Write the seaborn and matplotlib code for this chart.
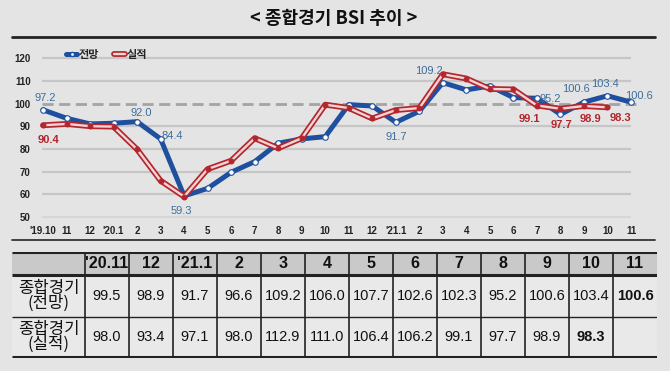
import numpy as np
import pandas as pd
import matplotlib
matplotlib.use('Agg')
import matplotlib.pyplot as plt
import seaborn as sns
from matplotlib.lines import Line2D
from matplotlib.patches import Rectangle

# chart data
months = ["'19.10", "11", "12", "'20.1", "2", "3", "4", "5", "6", "7", "8", "9", "10",
          "11", "12", "'21.1", "2", "3", "4", "5", "6", "7", "8", "9", "10", "11"]
outlook = [97.2, 93.5, 91.0, 91.3, 92.0, 84.4, 59.3, 62.6, 69.7, 74.4, 82.5, 84.4, 85.4,
           99.5, 98.9, 91.7, 96.6, 109.2, 106.0, 107.7, 102.6, 102.3, 95.2, 100.6, 103.4, 100.6]
actual = [90.4, 91.0, 90.0, 89.8, 79.8, 66.0, 59.0, 71.1, 74.8, 84.7, 80.3, 84.7, 99.5,
          98.0, 93.4, 97.1, 98.0, 112.9, 111.0, 106.4, 106.2, 99.1, 97.7, 98.9, 98.3]

# table data
table_cols = ["'20.11", "12", "'21.1", "2", "3", "4", "5", "6", "7", "8", "9", "10", "11"]
table_outlook = ["99.5", "98.9", "91.7", "96.6", "109.2", "106.0", "107.7", "102.6",
                 "102.3", "95.2", "100.6", "103.4", "100.6"]
table_actual = ["98.0", "93.4", "97.1", "98.0", "112.9", "111.0", "106.4", "106.2",
                "99.1", "97.7", "98.9", "98.3", ""]
row_labels = ["종합경기\n(전망)", "종합경기\n(실적)"]

# labelled points: (index, dx px, dy px)
blue_notes = [(0, 2, 12), (4, 4, 9), (5, 12, 3), (6, -3, -15), (15, 0, -15), (17, -14, 12),
              (22, -10, 15), (23, -8, 13), (24, -3, 12), (25, 8, 6)]
red_notes = [(0, 5, -15), (21, -8, -13), (22, 1, -16), (23, 6, -13), (24, 13, -11)]

BG = '#e4e4e4'
BLUE = '#1f4f9f'
BLUE_TXT = '#3f6d9c'
RED = '#b3262d'
RED_IN = '#f3d3d3'
KR = ['Noto Sans CJK KR', 'DejaVu Sans']
NUM = ['Liberation Sans Narrow', 'Liberation Sans', 'DejaVu Sans']

sns.set_theme(style='white')
plt.rcParams['font.family'] = KR

W, H = 670, 371
fig = plt.figure(figsize=(6.7, 3.71), dpi=100)
fig.patch.set_facecolor(BG)


def box(l, t, r, b):
    return [l / W, 1 - b / H, (r - l) / W, (b - t) / H]


fig.text(334 / W, 1 - 18 / H, '< 종합경기 BSI 추이 >', ha='center', va='center',
         fontsize=13, fontweight='bold', color='#111')
fig.add_artist(Line2D([12 / W, 655 / W], [1 - 37 / H] * 2, color='#222', lw=2))
fig.add_artist(Line2D([12 / W, 655 / W], [1 - 240 / H] * 2, color='#333', lw=1.3))

# ---- line chart ----
ax = fig.add_axes(box(35, 45, 640, 222))
ax.set_facecolor(BG)
step = 23.52
ax.set_xlim((35 - 43) / step, (640 - 43) / step)
ax.set_ylim(50 + (217 - 222) / 2.27, 50 + (217 - 45) / 2.27)

for v in [50, 60, 70, 80, 90, 110, 120]:
    ax.hlines(v, -0.05, 25.0, color='#c6c6c6' if v != 50 else '#d6d6d6', lw=1.6, zorder=0)
ax.hlines(100, -0.05, 25.2, color='#a4a4a4', lw=2, linestyles=(0, (4, 2)), zorder=0)

df_o = pd.DataFrame({'idx': range(len(outlook)), 'val': outlook})
df_a = pd.DataFrame({'idx': range(len(actual)), 'val': actual})

sns.lineplot(data=df_o, x='idx', y='val', ax=ax, color=BLUE, lw=3.6, marker='o',
             markersize=4, markerfacecolor='white', markeredgecolor=BLUE,
             markeredgewidth=0.8, zorder=3)
sns.lineplot(data=df_a, x='idx', y='val', ax=ax, color=RED, lw=4.2, zorder=4)
sns.lineplot(data=df_a, x='idx', y='val', ax=ax, color=RED_IN, lw=1.7, marker='o',
             markersize=3.5, markerfacecolor=RED, markeredgecolor=RED, zorder=5)

for i, dx, dy in blue_notes:
    ax.annotate(f'{outlook[i]:.1f}', (i, outlook[i]), xytext=(dx * 0.72, dy * 0.72),
                textcoords='offset points', ha='center', va='center', fontsize=8,
                color=BLUE_TXT, family=NUM, zorder=6)
for i, dx, dy in red_notes:
    ax.annotate(f'{actual[i]:.1f}', (i, actual[i]), xytext=(dx * 0.72, dy * 0.72),
                textcoords='offset points', ha='center', va='center', fontsize=8,
                color=RED, fontweight='bold', family=NUM, zorder=6)

ax.set_xticks(range(len(months)))
ax.set_xticklabels(months)
ax.set_yticks(range(50, 121, 10))
ax.tick_params(length=0, labelsize=7, pad=3, colors='#222')
for lab in ax.get_xticklabels() + ax.get_yticklabels():
    lab.set_fontweight('bold')
    lab.set_family(NUM)
ax.set_xlabel('')
ax.set_ylabel('')
for s in ax.spines.values():
    s.set_visible(False)

h_blue = Line2D([], [], color=BLUE, lw=3.6, marker='o', markersize=3,
                markerfacecolor='white', markeredgecolor=BLUE)
h_red = (Line2D([], [], color=RED, lw=4.2), Line2D([], [], color=RED_IN, lw=1.7))
ax.legend([h_blue, h_red], ['전망', '실적'], loc='upper left',
          bbox_to_anchor=(56 / W, 1 - 38 / H), bbox_transform=fig.transFigure,
          ncol=2, frameon=False, handlelength=1.0, handletextpad=0.15,
          columnspacing=1.3, prop={'size': 8, 'weight': 'bold', 'family': KR})

# ---- table ----
tax = fig.add_axes(box(12, 252, 657, 358))
tax.set_xlim(12, 657)
tax.set_ylim(358, 252)
tax.axis('off')
edges = [12, 85] + [85 + 44 * (k + 1) for k in range(len(table_cols))]
rows = [252, 275, 317, 357]
tax.add_patch(Rectangle((12, 252), 645, 23, color='#c9c9c9', zorder=0))
tax.add_patch(Rectangle((12, 275), 645, 82, color='#e9e9e9', zorder=0))
for y, lw in zip(rows, [2.2, 2.2, 1.0, 2.2]):
    tax.plot([12, 657], [y, y], color='#222', lw=lw, solid_capstyle='butt')
for x in edges[1:-1]:
    tax.plot([x, x], [252, 357], color='#222', lw=1.2)

centers = [(edges[k] + edges[k + 1]) / 2 for k in range(len(edges) - 1)]
ymid = [(rows[k] + rows[k + 1]) / 2 for k in range(3)]
for k, c in enumerate(table_cols):
    tax.text(centers[k + 1], ymid[0] + 0.5, c, ha='center', va='center', fontsize=11.5,
             fontweight='bold', family=NUM, color='#111')
for r, (lab, vals) in enumerate(zip(row_labels, [table_outlook, table_actual])):
    tax.text(centers[0], ymid[r + 1], lab, ha='center', va='center', fontsize=12,
             linespacing=0.85, color='#111')
    for k, v in enumerate(vals):
        bold = (k == len(vals) - 1) or (r == 1 and k == len(vals) - 2)
        tax.text(centers[k + 1], ymid[r + 1], v, ha='center', va='center', fontsize=10.5,
                 family=NUM, fontweight='bold' if bold else 'normal', color='#111')

fig.savefig('out.png', dpi=100, facecolor=BG)
